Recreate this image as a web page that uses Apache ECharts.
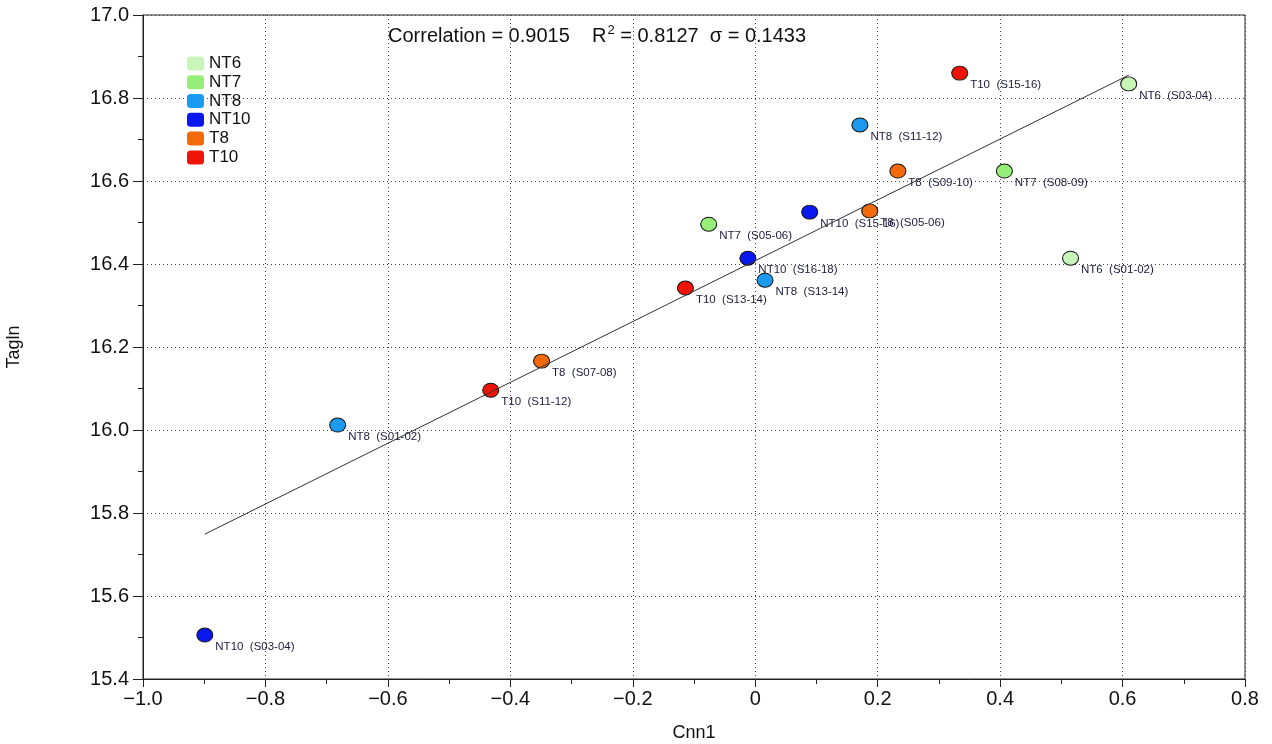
<!DOCTYPE html>
<html>
<head>
<meta charset="utf-8">
<script src="https://cdn.jsdelivr.net/npm/echarts@6/dist/echarts.min.js"></script>
<style>html,body{margin:0;padding:0;background:#fff}#c{width:1272px;height:744px}</style>
</head>
<body>
<div id="c"></div>
<script>
// ---- data ----
const groups = ['NT6', 'NT7', 'NT8', 'NT10', 'T8', 'T10'];
const groupColors = ['#c8f5b8', '#96ee78', '#1a9af0', '#0a18f0', '#f26a0a', '#f01408'];
const NT6  = [[0.610, 16.834, 'S03-04'], [0.515, 16.414, 'S01-02']];
const NT7  = [[0.407, 16.624, 'S08-09'], [-0.076, 16.496, 'S05-06']];
const NT8  = [[0.171, 16.735, 'S11-12'], [0.016, 16.361, 'S13-14'], [-0.682, 16.012, 'S01-02']];
const NT10 = [[0.089, 16.525, 'S15-16'], [-0.012, 16.414, 'S16-18'], [-0.899, 15.506, 'S03-04']];
const T8   = [[0.233, 16.624, 'S09-10'], [0.187, 16.528, 'S05-06'], [-0.349, 16.166, 'S07-08']];
const T10  = [[0.334, 16.860, 'S15-16'], [-0.114, 16.342, 'S13-14'], [-0.432, 16.096, 'S11-12']];
const groupData = [NT6, NT7, NT8, NT10, T8, T10];
const fitLine = [[-0.899, 15.749], [0.610, 16.855]];
const statsText = ['Correlation = 0.9015    R', '2', ' = 0.8127  \u03c3 = 0.1433'];
const xAxisName = 'Cnn1';
const yAxisName = 'Tagln';

const minus = s => String(s).replace('-', '\u2212');

const series = groups.map((g, i) => ({
  name: g,
  type: 'scatter',
  symbol: 'circle',
  symbolSize: [16, 14],
  data: groupData[i].map(d => ({ value: [d[0], d[1]], lab: g + '  (' + d[2] + ')' })),
  itemStyle: { color: groupColors[i], borderColor: '#111', borderWidth: 1, opacity: 1 },
  label: {
    show: true,
    position: [19, 19],
    align: 'left',
    verticalAlign: 'middle',
    fontFamily: 'Liberation Sans, Arial, sans-serif',
    fontSize: 11.5,
    color: '#1c1c3a',
    formatter: p => p.data.lab
  },
  emphasis: { disabled: true },
  z: 3
}));

series.push({
  name: 'fit',
  type: 'line',
  data: fitLine,
  symbol: 'none',
  lineStyle: { color: '#333', width: 1 },
  silent: true,
  z: 4
});

const chart = echarts.init(document.getElementById('c'), null, { renderer: 'canvas' });
chart.setOption({
  animation: false,
  backgroundColor: '#fff',
  textStyle: { fontFamily: 'Liberation Sans, Arial, sans-serif' },
  grid: { left: 143, right: 27, top: 15, bottom: 65, show: true, borderColor: '#222', borderWidth: 1, backgroundColor: 'transparent', outerBoundsMode: 'none', containLabel: false },
  legend: {
    data: groups.map((g, i) => ({ name: g, itemStyle: { color: groupColors[i], borderWidth: 0 } })),
    orient: 'vertical',
    left: 182,
    top: 49,
    icon: 'roundRect',
    itemWidth: 17,
    itemHeight: 14,
    itemGap: 0,
    textStyle: { fontSize: 17, lineHeight: 18.8, color: '#111' }
  },
  graphic: [{
    type: 'text',
    left: 388,
    top: 24,
    style: {
      rich: {
        a: { fontSize: 20, fontFamily: 'Liberation Sans, Arial, sans-serif', fill: '#111' },
        s: { fontSize: 13, fontFamily: 'Liberation Sans, Arial, sans-serif', fill: '#111', padding: [0, 0, 11, 1] }
      },
      text: '{a|' + statsText[0] + '}{s|' + statsText[1] + '}{a|' + statsText[2] + '}'
    }
  }],
  xAxis: {
    type: 'value',
    min: -1.0, max: 0.8, interval: 0.2,
    name: xAxisName,
    nameLocation: 'middle',
    nameGap: 45,
    nameTextStyle: { fontSize: 18, color: '#111' },
    axisLine: { show: true, onZero: false, lineStyle: { color: '#222', width: 1 } },
    axisTick: { show: true, inside: false, length: 8, lineStyle: { color: '#222' } },
    minorTick: { show: true, splitNumber: 2, length: 5, lineStyle: { color: '#222' } },
    axisLabel: { fontSize: 20, color: '#111', margin: 10, formatter: v => Math.abs(v) < 1e-9 ? '0' : minus(v.toFixed(1)) },
    splitLine: { show: true, lineStyle: { color: '#444', type: [1, 3], width: 1 } }
  },
  yAxis: {
    type: 'value',
    min: 15.4, max: 17.0, interval: 0.2,
    name: yAxisName,
    nameLocation: 'middle',
    nameGap: 120,
    nameRotate: 90,
    nameTextStyle: { fontSize: 18, color: '#111' },
    axisLine: { show: true, onZero: false, lineStyle: { color: '#222', width: 1 } },
    axisTick: { show: true, inside: false, length: 10, lineStyle: { color: '#222' } },
    minorTick: { show: true, splitNumber: 2, length: 5, lineStyle: { color: '#222' } },
    axisLabel: { fontSize: 20, color: '#111', margin: 14, formatter: v => v.toFixed(1) },
    splitLine: { show: true, lineStyle: { color: '#444', type: [1, 3], width: 1 } }
  },
  series: series
});
</script>
</body>
</html>
